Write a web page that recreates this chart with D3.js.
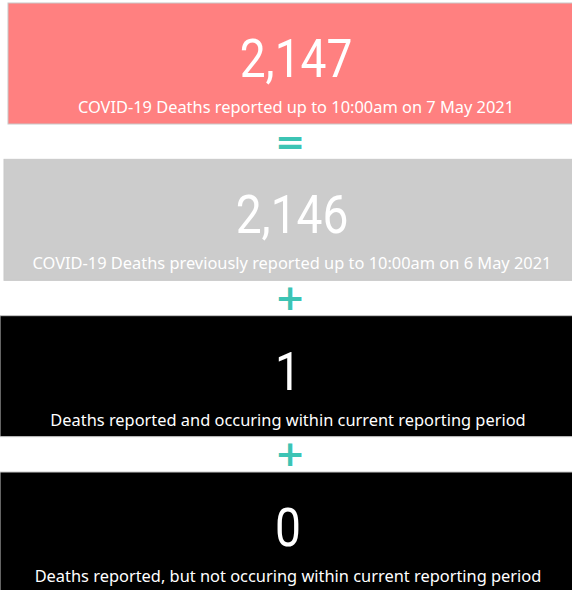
<!DOCTYPE html>
<html>
<head>
<meta charset="utf-8">
<script src="https://cdn.jsdelivr.net/npm/d3@7"></script>
<style>
  html, body { margin: 0; padding: 0; background: #fff; overflow: hidden; }
</style>
</head>
<body>
<svg id="chart"></svg>
<script>
const values = [2147, 2146, 1, 0];
const labels = [
    "COVID-19 Deaths reported up to 10:00am on 7 May 2021",
    "COVID-19 Deaths previously reported up to 10:00am on 6 May 2021",
    "Deaths reported and occuring within current reporting period",
    "Deaths reported, but not occuring within current reporting period"
];
const fills = ["#FF8080", "#CCCCCC", "#000000", "#000000"];
const operators = ["=", "+", "+"];

const width = 572, height = 590;
const svg = d3.select("#chart").attr("width", width).attr("height", height);

// card layout (each card visual sits a little differently on the page)
const insetLeft = [8, 4, 0, 0];
const cardWidth = 576;

const y = d3.scaleBand()
    .domain(d3.range(values.length))
    .range([3, 593])
    .paddingInner(0.226)
    .paddingOuter(0);

const fmt = d3.format(",");

const cards = svg.selectAll("g.card")
    .data(values)
    .enter().append("g")
    .attr("class", "card")
    .attr("transform", (d, i) => `translate(${insetLeft[i]},${y(i)})`);

cards.append("rect")
    .attr("width", cardWidth)
    .attr("height", y.bandwidth())
    .attr("fill", (d, i) => fills[i])
    .attr("stroke", "#c8c8c8")
    .attr("stroke-width", 1);

// big number, squeezed a bit to look like the DIN face of the original
cards.append("text")
    .attr("transform", `translate(${cardWidth / 2},74) scale(0.87,1)`)
    .attr("text-anchor", "middle")
    .attr("fill", "#fff")
    .style("font-family", "Roboto, sans-serif")
    .style("font-size", "53px")
    .text(d => fmt(d));

cards.append("text")
    .attr("x", cardWidth / 2)
    .attr("y", 110)
    .attr("text-anchor", "middle")
    .attr("fill", "#fff")
    .style("font-family", "'Noto Sans', 'Open Sans', sans-serif")
    .style("font-size", "16.4px")
    .text((d, i) => labels[i]);

// operators between the cards
svg.selectAll("text.op")
    .data(operators)
    .enter().append("text")
    .attr("class", "op")
    .attr("x", 290)
    .attr("y", (d, i) => y(i) + y.bandwidth() + (y.step() - y.bandwidth()) / 2)
    .attr("dy", "0.33em")
    .attr("text-anchor", "middle")
    .attr("fill", "#3CC4B4")
    .style("font-family", "'DejaVu Sans', sans-serif")
    .style("font-weight", "bold")
    .style("font-size", "36px")
    .text(d => d);
</script>
</body>
</html>
